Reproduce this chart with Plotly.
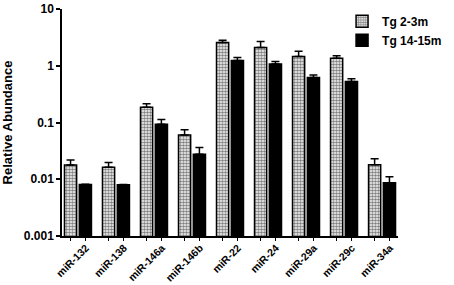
import plotly.graph_objects as go

categories = ["miR-132", "miR-138", "miR-146a", "miR-146b", "miR-22", "miR-24", "miR-29a", "miR-29c", "miR-34a"]
young = [0.0178, 0.0162, 0.186, 0.0603, 2.56, 2.09, 1.46, 1.35, 0.0181]
young_err_top = [0.0218, 0.0198, 0.215, 0.0746, 2.82, 2.67, 1.81, 1.50, 0.0230]
old = [0.00807, 0.0080, 0.0927, 0.0277, 1.24, 1.07, 0.619, 0.528, 0.00865]
old_err_top = [0.0082, 0.0081, 0.113, 0.0362, 1.40, 1.19, 0.690, 0.588, 0.0111]
series_names = ["Tg 2-3m", "Tg 14-15m"]
ytick_vals = [0.001, 0.01, 0.1, 1, 10]
ytick_text = ["0.001", "0.01", "0.1", "1", "10"]

FONT = "Liberation Sans, Arial, sans-serif"

young_err = [t - v for t, v in zip(young_err_top, young)]
old_err = [t - v for t, v in zip(old_err_top, old)]

fig = go.Figure()
fig.add_trace(go.Bar(
    x=categories, y=young, name=series_names[0],
    marker=dict(color="white", line=dict(color="black", width=1.5),
                pattern=dict(shape=".", size=3, solidity=0.6, fgcolor="black", bgcolor="white", fillmode="overlay")),
    error_y=dict(type="data", array=young_err, arrayminus=[0]*len(young), symmetric=False,
                 color="black", thickness=1.5, width=4),
))
fig.add_trace(go.Bar(
    x=categories, y=old, name=series_names[1],
    marker=dict(color="black", line=dict(color="black", width=1.5)),
    error_y=dict(type="data", array=old_err, arrayminus=[0]*len(old), symmetric=False,
                 color="black", thickness=1.5, width=4),
))

n = len(categories)
off = 0.195
bar_ticks = []
for i in range(n):
    bar_ticks += [i - off, i + off]

fig.update_layout(
    width=454, height=285,
    margin=dict(l=62, r=50, t=7, b=49),
    paper_bgcolor="white", plot_bgcolor="white",
    barmode="group", bargap=0.22, bargroupgap=0.18,
    font=dict(family=FONT, color="black"),
    legend=dict(x=1.146, y=1.01, xref="paper", yref="paper", xanchor="right", yanchor="top",
                font=dict(size=12, family=FONT, weight="bold"), bgcolor="rgba(0,0,0,0)",
                itemwidth=30, tracegroupgap=0, borderwidth=0),
    xaxis=dict(type="category", range=[-0.42, 8.42], showline=True, linecolor="black", linewidth=1.5,
               ticks="", tickangle=-45, tickfont=dict(size=10.5, family=FONT, weight="bold"),
               ticklabelshift=8, ticklabelstandoff=0,
               showgrid=False, zeroline=False, automargin=False),
    xaxis2=dict(overlaying="x", anchor="y", range=[-0.42, 8.42], tickmode="array", tickvals=bar_ticks,
                ticks="outside", ticklen=4, tickwidth=1.2, tickcolor="black", showticklabels=False,
                showline=False, showgrid=False, zeroline=False, side="bottom", automargin=False),
    yaxis=dict(type="log", range=[-3, 1], tickmode="array", tickvals=ytick_vals, ticktext=ytick_text,
               ticks="outside", ticklen=4, tickwidth=1.5, tickcolor="black", showline=True,
               linecolor="black", linewidth=1.5, showgrid=False, zeroline=False,
               tickfont=dict(size=12, family=FONT, weight="bold"), automargin=False,
               title=dict(text="Relative Abundance", font=dict(size=13, family=FONT, weight="bold"), standoff=10)),
)
fig.add_trace(go.Scatter(x=[None], y=[None], xaxis="x2", yaxis="y", showlegend=False, hoverinfo="skip"))

fig.write_html("out.html", config={"displayModeBar": False},
               post_script="document.body.style.margin='0px';document.body.style.overflow='hidden';")
